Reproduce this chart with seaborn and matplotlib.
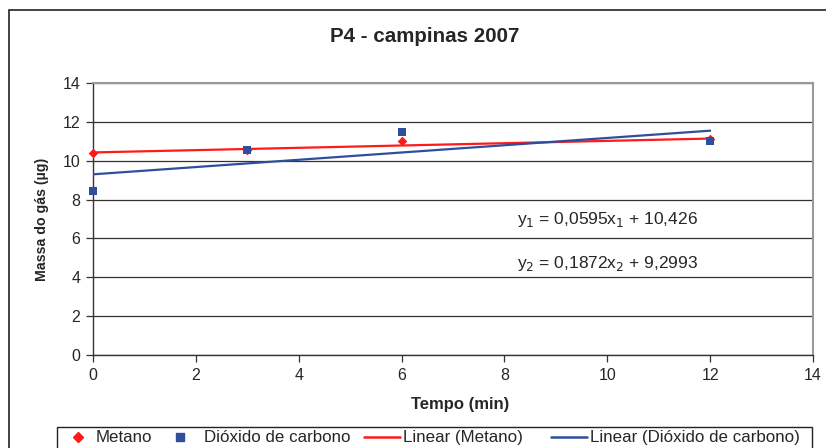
import numpy as np
import pandas as pd
import matplotlib
matplotlib.use("Agg")
import matplotlib.pyplot as plt
from matplotlib.patches import Rectangle
from matplotlib.lines import Line2D
import seaborn as sns

# Measured gas mass over time (P4 - Campinas, 2007)
tempo = [0, 3, 6, 12]
metano = [10.4, 10.55, 11.0, 11.1]
dioxido = [8.45, 10.55, 11.5, 11.0]

# Linear fits (slope, intercept) as reported in the equations
fit_metano = (0.0595, 10.426)
fit_dioxido = (0.1872, 9.2993)

x_ticks = [0, 2, 4, 6, 8, 10, 12, 14]
y_ticks = [0, 2, 4, 6, 8, 10, 12, 14]

RED = "#FF1A1A"
BLUE = "#2F4E9E"

sns.set_theme(style="white")
plt.rcParams["font.family"] = ["Liberation Sans", "DejaVu Sans"]

W, H = 826, 448
fig = plt.figure(figsize=(W / 100, H / 100), dpi=100)


def fx(px):
    return px / W


def fy(py):
    return 1 - py / H


# outer chart frame
fig.patches.append(Rectangle((fx(9), -0.01), 1.0, fy(10) + 0.01,
                             transform=fig.transFigure, fill=False,
                             edgecolor="#222222", linewidth=1.2))

left, right, top, bottom = 93, 813, 83, 355
ax = fig.add_axes([fx(left), fy(bottom), (right - left) / W, (bottom - top) / H])

pts = pd.DataFrame({
    "tempo": tempo * 2,
    "massa": metano + dioxido,
    "serie": ["Metano"] * 4 + ["Dióxido de carbono"] * 4,
})
sns.scatterplot(data=pts[pts.serie == "Metano"], x="tempo", y="massa", ax=ax,
                marker="D", s=24, color=RED, edgecolor=RED, linewidth=0, zorder=4,
                legend=False, clip_on=False)
sns.scatterplot(data=pts[pts.serie != "Metano"], x="tempo", y="massa", ax=ax,
                marker="s", s=28, color=BLUE, edgecolor=BLUE, linewidth=0, zorder=4,
                legend=False, clip_on=False)

x_fit = np.array([tempo[0], tempo[-1]])
lines = pd.DataFrame({
    "tempo": np.concatenate([x_fit, x_fit]),
    "massa": np.concatenate([fit_metano[0] * x_fit + fit_metano[1],
                             fit_dioxido[0] * x_fit + fit_dioxido[1]]),
    "serie": ["Linear (Metano)"] * 2 + ["Linear (Dióxido de carbono)"] * 2,
})
sns.lineplot(data=lines, x="tempo", y="massa", hue="serie",
             palette={"Linear (Metano)": RED, "Linear (Dióxido de carbono)": BLUE},
             ax=ax, linewidth=1.6, legend=False, zorder=3)

ax.set_xlim(0, 14)
ax.set_ylim(0, 14)
ax.set_xticks(x_ticks)
ax.set_yticks(y_ticks)
ax.set_xticklabels([str(v) for v in x_ticks], fontsize=11.5)
ax.set_yticklabels([str(v) for v in y_ticks], fontsize=11.5)
ax.yaxis.grid(True, color="#333333", linewidth=0.9)
ax.xaxis.grid(False)
ax.tick_params(axis="both", which="both", direction="out", length=5, width=0.9,
               color="#333333", pad=4, bottom=True, left=True)
for side in ("top", "right"):
    ax.spines[side].set_color("#999999")
    ax.spines[side].set_linewidth(1.5)
for side in ("left", "bottom"):
    ax.spines[side].set_color("#333333")
    ax.spines[side].set_linewidth(1.0)
ax.set_xlabel("Tempo (min)", fontsize=12, fontweight="bold", labelpad=8)
ax.xaxis.set_label_coords(0.51, -0.155)
ax.set_ylabel("Massa do gás (µg)", fontsize=10.2, fontweight="bold", labelpad=10)

fig.text(fx(425), fy(36), "P4 - campinas 2007", ha="center", va="center",
         fontsize=14.8, fontweight="bold")

ax.text(10.0, 7.0, r"y$_1$ = 0,0595x$_1$ + 10,426", ha="center", va="center",
        fontsize=12.5)
ax.text(10.0, 4.73, r"y$_2$ = 0,1872x$_2$ + 9,2993", ha="center", va="center",
        fontsize=12.5)

# legend box along the bottom edge
fig.patches.append(Rectangle((fx(57), -0.01), fx(812) - fx(57), fy(427) + 0.01,
                             transform=fig.transFigure, fill=False,
                             edgecolor="#222222", linewidth=1.0))
ly = fy(437)
fig.add_artist(Line2D([fx(78)], [ly], transform=fig.transFigure, linestyle="none",
                      marker="D", markersize=5, color=RED))
fig.add_artist(Line2D([fx(180)], [ly], transform=fig.transFigure, linestyle="none",
                      marker="s", markersize=5.5, color=BLUE))
fig.add_artist(Line2D([fx(364), fx(400)], [ly, ly], transform=fig.transFigure,
                      color=RED, linewidth=1.8))
fig.add_artist(Line2D([fx(551), fx(587)], [ly, ly], transform=fig.transFigure,
                      color=BLUE, linewidth=1.8))
labels = ["Metano", "Dióxido de carbono", "Linear (Metano)", "Linear (Dióxido de carbono)"]
label_x = [96, 204, 403, 590]
for lx, lab in zip(label_x, labels):
    fig.text(fx(lx), ly, lab, ha="left", va="center", fontsize=12.2)

fig.savefig("out.png", dpi=100)
